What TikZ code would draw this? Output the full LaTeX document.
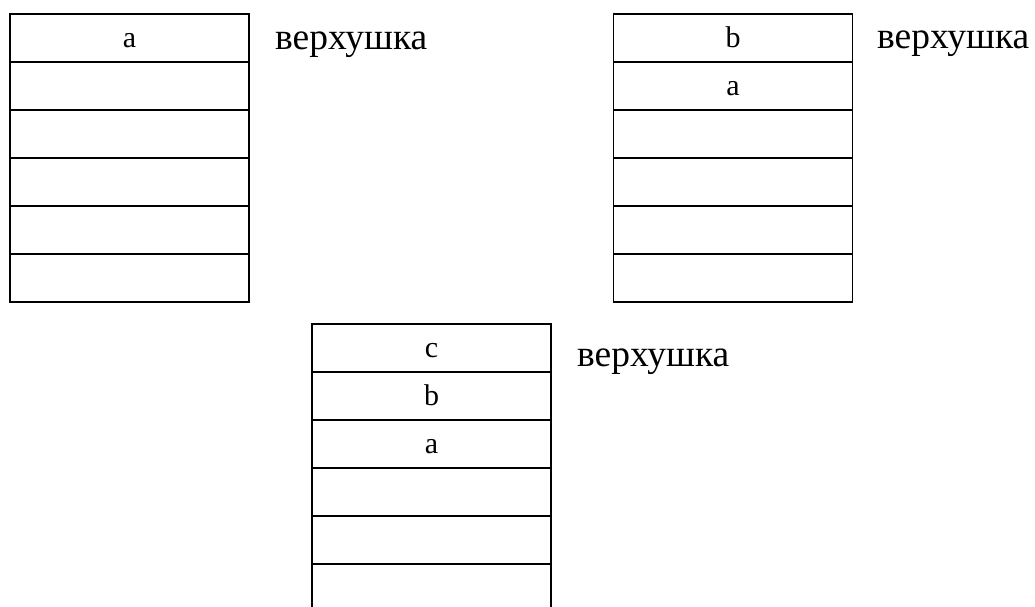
\documentclass[tikz,border=0pt]{standalone}
\usepackage{fontspec}
\setmainfont{Liberation Serif}
\begin{document}
\begin{tikzpicture}[x=1pt,y=-1pt,
  cell/.style={draw,line width=1.6pt,minimum width=239pt,minimum height=48pt,inner sep=0pt,outer sep=0pt,text height=20pt,text depth=1pt,font=\fontsize{30}{33}\selectfont},
  toplabel/.style={anchor=base west,inner sep=0pt,font=\fontsize{37.5}{40}\selectfont}]
\clip (0,0) rectangle (1035,606);
\fill[white] (0,0) rectangle (1035,606);
% stack 1
\node[cell] (s1r1) at (129.5,38) {a};
\node[cell] (s1r2) at (129.5,86) {};
\node[cell] (s1r3) at (129.5,134) {};
\node[cell] (s1r4) at (129.5,182) {};
\node[cell] (s1r5) at (129.5,230) {};
\node[cell] (s1r6) at (129.5,278) {};
\node[toplabel] (l1) at (275,49) {верхушка};
% stack 2
\node[cell] (s2r1) at (733,38) {b};
\node[cell] (s2r2) at (733,86) {a};
\node[cell] (s2r3) at (733,134) {};
\node[cell] (s2r4) at (733,182) {};
\node[cell] (s2r5) at (733,230) {};
\node[cell] (s2r6) at (733,278) {};
\node[toplabel] (l2) at (877,48) {верхушка};
% stack 3
\node[cell] (s3r1) at (431.5,348) {c};
\node[cell] (s3r2) at (431.5,396) {b};
\node[cell] (s3r3) at (431.5,444) {a};
\node[cell] (s3r4) at (431.5,492) {};
\node[cell] (s3r5) at (431.5,540) {};
\node[cell] (s3r6) at (431.5,588) {};
\node[toplabel] (l3) at (577,366) {верхушка};
\end{tikzpicture}
\end{document}
